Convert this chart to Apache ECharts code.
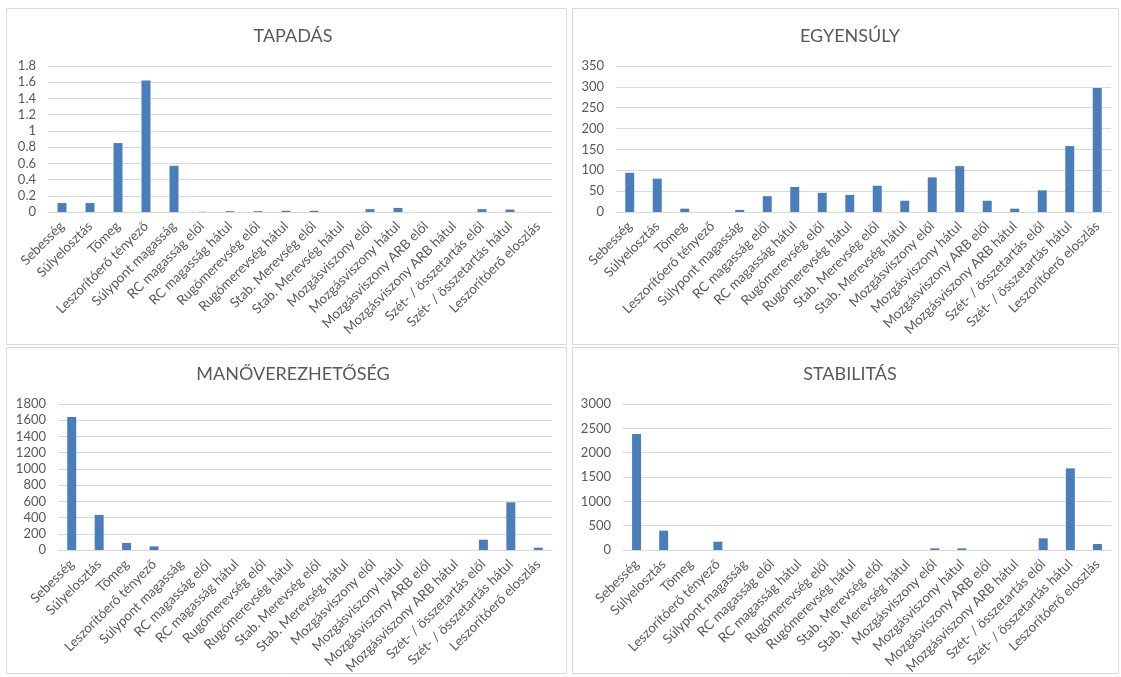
<!DOCTYPE html>
<html>
<head>
<meta charset="utf-8">
<title>Charts</title>
<script src="https://cdn.jsdelivr.net/npm/echarts@6/dist/echarts.min.js"></script>
<style>
  html, body { margin: 0; padding: 0; background: #fff; }
  #main { width: 1121px; height: 677px; }
</style>
</head>
<body>
<div id="main"></div>
<script>
// kategóriák (közös minden diagramnál)
const categories = [
  'Sebesség', 'Súlyelosztás', 'Tömeg', 'Leszorítóerő tényező', 'Súlypont magasság',
  'RC magasság elől', 'RC magasság hátul', 'Rugómerevség elől', 'Rugómerevség hátul',
  'Stab. Merevség elől', 'Stab. Merevség hátul', 'Mozgásviszony elől', 'Mozgásviszony hátul',
  'Mozgásviszony ARB elől', 'Mozgásviszony ARB hátul', 'Szét- / összetartás elől',
  'Szét- / összetartás hátul', 'Leszorítóerő eloszlás'
]

const titles = ['TAPADÁS', 'EGYENSÚLY', 'MANŐVEREZHETŐSÉG', 'STABILITÁS']

const tapadasValues = [0.11, 0.11, 0.85, 1.62, 0.57, 0.003, 0.01, 0.01, 0.015, 0.015, 0, 0.035, 0.05, 0, 0, 0.035, 0.03, 0]
const egyensulyValues = [94, 80, 8, 0, 5, 38, 60, 46, 41, 63, 27, 83, 110, 27, 8, 52, 158, 297]
const manoverValues = [1640, 432, 86, 45, 0, 0, 0, 0, 0, 0, 0, 0, 0, 0, 0, 127, 588, 29]
const stabilitasValues = [2384, 397, 0, 171, 0, 0, 0, 0, 0, 0, 0, 34, 34, 0, 0, 240, 1678, 123]

// tengely beosztások
const yMax = [1.8, 350, 1800, 3000]
const yStep = [0.2, 50, 200, 500]

const seriesData = [tapadasValues, egyensulyValues, manoverValues, stabilitasValues]

const FONT = 'Lato'
const TEXT = '#595959'
const GRID_LINE = '#d9d9d9'
const BAR = '#4a7ebb'

// diagramok helye
const grids = [
  { left: 48, right: 569, top: 66, bottom: 465 },
  { left: 616, right: 10, top: 66, bottom: 465 },
  { left: 58, right: 569, top: 404, bottom: 127 },
  { left: 623, right: 10, top: 404, bottom: 127 },
]
const titlePos = [
  { left: 288, top: 22 },
  { left: 845, top: 22 },
  { left: 288, top: 360 },
  { left: 845, top: 360 },
]
const boxes = [
  { x: 6.5, y: 8.5, width: 560, height: 336 },
  { x: 572.5, y: 8.5, width: 546, height: 336 },
  { x: 6.5, y: 347.5, width: 560, height: 326 },
  { x: 572.5, y: 347.5, width: 546, height: 326 },
]

const chart = echarts.init(document.getElementById('main'))

chart.setOption({
  animation: false,
  textStyle: { fontFamily: FONT },
  title: titles.map((t, i) => ({
    text: t,
    left: titlePos[i].left,
    top: titlePos[i].top,
    textAlign: 'center',
    textStyle: { fontFamily: FONT, fontSize: 18, fontWeight: 'normal', color: TEXT },
  })),
  graphic: boxes.map(b => ({
    type: 'rect',
    shape: b,
    style: { fill: 'none', stroke: '#d9d9d9', lineWidth: 1 },
    silent: true,
  })),
  grid: grids,
  xAxis: grids.map((g, i) => ({
    type: 'category',
    gridIndex: i,
    data: categories,
    axisLine: { lineStyle: { color: GRID_LINE } },
    axisTick: { show: false },
    axisLabel: {
      interval: 0,
      rotate: 45,
      margin: 12,
      fontFamily: FONT,
      fontSize: 13.5,
      color: TEXT,
    },
  })),
  yAxis: grids.map((g, i) => ({
    type: 'value',
    gridIndex: i,
    min: 0,
    max: yMax[i],
    interval: yStep[i],
    axisLine: { show: false },
    axisTick: { show: false },
    splitLine: { lineStyle: { color: GRID_LINE } },
    axisLabel: {
      margin: 12,
      fontFamily: FONT,
      fontSize: 13,
      color: TEXT,
      formatter: v => String(Math.round(v * 10) / 10),
    },
  })),
  series: seriesData.map((d, i) => ({
    type: 'bar',
    xAxisIndex: i,
    yAxisIndex: i,
    data: d,
    barWidth: 9,
    itemStyle: { color: BAR },
  })),
})
</script>
</body>
</html>
